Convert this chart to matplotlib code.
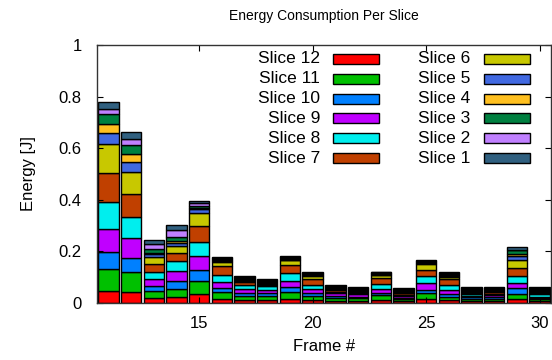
import matplotlib
matplotlib.use("Agg")
import matplotlib.pyplot as plt
from matplotlib.patches import Rectangle
import numpy as np

plt.rcParams['font.family'] = ['Liberation Sans', 'DejaVu Sans']

frames = list(range(11, 31))

slice_labels = ["Slice 12", "Slice 11", "Slice 10", "Slice 9", "Slice 8", "Slice 7",
                "Slice 6", "Slice 5", "Slice 4", "Slice 3", "Slice 2", "Slice 1"]
slice_colors = ["#ff0000", "#00c000", "#0080ff", "#c000ff", "#00eeee", "#c04000",
                "#c8c800", "#4169e1", "#ffc020", "#008040", "#c080ff", "#306080"]

# stacked bottom -> top: Slice 12 ... Slice 1
slice12 = [0.048, 0.042, 0.019, 0.023, 0.035, 0.017, 0.010, 0.010, 0.017, 0.010, 0.009, 0.008, 0.012, 0.008, 0.015, 0.010, 0.008, 0.008, 0.015, 0.007]
slice11 = [0.083, 0.078, 0.028, 0.033, 0.051, 0.026, 0.019, 0.017, 0.024, 0.019, 0.009, 0.010, 0.018, 0.007, 0.022, 0.015, 0.008, 0.009, 0.021, 0.007]
slice10 = [0.067, 0.055, 0.018, 0.031, 0.040, 0.015, 0.009, 0.012, 0.020, 0.009, 0.008, 0.006, 0.009, 0.006, 0.013, 0.009, 0.006, 0.005, 0.021, 0.005]
slice9  = [0.087, 0.077, 0.027, 0.038, 0.055, 0.024, 0.015, 0.012, 0.026, 0.015, 0.011, 0.009, 0.017, 0.006, 0.027, 0.017, 0.007, 0.008, 0.021, 0.006]
slice8  = [0.108, 0.083, 0.028, 0.037, 0.054, 0.027, 0.018, 0.013, 0.028, 0.018, 0.005, 0.006, 0.019, 0.005, 0.026, 0.019, 0.005, 0.004, 0.027, 0.010]
slice7  = [0.110, 0.088, 0.030, 0.032, 0.065, 0.035, 0.012, 0.006, 0.031, 0.022, 0.010, 0.005, 0.022, 0.005, 0.026, 0.022, 0.004, 0.010, 0.029, 0.004]
slice6  = [0.115, 0.085, 0.027, 0.028, 0.049, 0.014, 0.003, 0.003, 0.019, 0.013, 0.003, 0.002, 0.010, 0.003, 0.022, 0.010, 0.003, 0.002, 0.032, 0.004]
slice5  = [0.040, 0.040, 0.012, 0.010, 0.014, 0.004, 0.004, 0.004, 0.0035, 0.003, 0.003, 0.003, 0.003, 0.0035, 0.003, 0.0035, 0.004, 0.003, 0.017, 0.004]
slice4  = [0.035, 0.030, 0.005, 0.008, 0.004, 0.004, 0.004, 0.004, 0.0035, 0.003, 0.003, 0.003, 0.003, 0.0035, 0.003, 0.0035, 0.004, 0.003, 0.006, 0.004]
slice3  = [0.038, 0.035, 0.015, 0.017, 0.010, 0.004, 0.004, 0.004, 0.0035, 0.003, 0.003, 0.003, 0.003, 0.0035, 0.003, 0.0035, 0.004, 0.003, 0.015, 0.004]
slice2  = [0.020, 0.023, 0.019, 0.027, 0.009, 0.004, 0.004, 0.004, 0.0035, 0.003, 0.003, 0.003, 0.003, 0.0035, 0.003, 0.0035, 0.004, 0.003, 0.003, 0.004]
slice1  = [0.028, 0.025, 0.017, 0.020, 0.009, 0.004, 0.004, 0.004, 0.0035, 0.003, 0.003, 0.003, 0.003, 0.0035, 0.003, 0.0035, 0.004, 0.003, 0.010, 0.004]

series = [slice12, slice11, slice10, slice9, slice8, slice7,
          slice6, slice5, slice4, slice3, slice2, slice1]

xticks = [15, 20, 25, 30]
yticks = [0, 0.2, 0.4, 0.6, 0.8, 1]
ytick_labels = ["0", "0.2", "0.4", "0.6", "0.8", "1"]

fig = plt.figure(figsize=(5.52, 3.60), dpi=100)
ax = fig.add_axes([97/552, 57/360, 454/552, 258/360])

bottom = np.zeros(len(frames))
for vals, col in zip(series, slice_colors):
    ax.bar(frames, vals, bottom=bottom, width=0.9, color=col,
           edgecolor="black", linewidth=1.0)
    bottom += np.array(vals)

ax.set_xlim(10.5, 30.5)
ax.set_ylim(0, 1)
ax.set_xticks(xticks)
ax.set_yticks(yticks)
ax.set_yticklabels(ytick_labels)
ax.tick_params(direction="in", length=4.5, width=0.8, top=True, right=True,
               labelsize=12)
ax.tick_params(axis="x", pad=9)
ax.tick_params(axis="y", pad=11)
for s in ax.spines.values():
    s.set_color("#333333")
    s.set_linewidth(1.0)

ax.set_title("Energy Consumption Per Slice", fontsize=10, pad=18)
ax.set_xlabel("Frame #", fontsize=12, labelpad=6)
ax.set_ylabel("Energy [J]", fontsize=12, labelpad=16)

# gnuplot-style legend: right-aligned labels with swatch after
col_text_x = [0.491, 0.822]
col_sw_x = [0.520, 0.852]
sw_w, sw_h = 0.102, 0.039
y0, dy = 0.946, 0.0768
for i, (lab, col) in enumerate(zip(slice_labels, slice_colors)):
    c = i // 6
    r = i % 6
    yc = y0 - r * dy
    ax.text(col_text_x[c], yc, lab, transform=ax.transAxes, ha="right",
            va="center", fontsize=12.5)
    ax.add_patch(Rectangle((col_sw_x[c], yc - sw_h / 2), sw_w, sw_h,
                           transform=ax.transAxes, facecolor=col,
                           edgecolor="black", linewidth=1.0))

fig.savefig("out.png", dpi=100)
